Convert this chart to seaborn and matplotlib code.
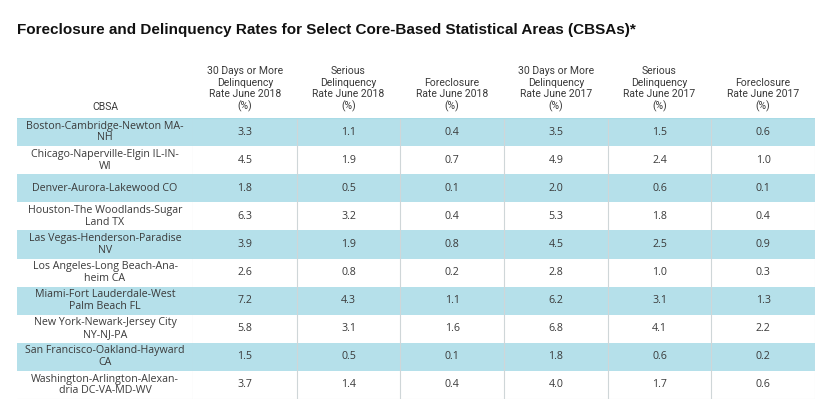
import numpy as np
import pandas as pd
import seaborn as sns
import matplotlib
matplotlib.use("Agg")
import matplotlib.pyplot as plt
from matplotlib.colors import ListedColormap

# ---- data ----
cbsa = [
    "Boston-Cambridge-Newton MA-\nNH",
    "Chicago-Naperville-Elgin IL-IN-\nWI",
    "Denver-Aurora-Lakewood CO",
    "Houston-The Woodlands-Sugar\nLand TX",
    "Las Vegas-Henderson-Paradise\nNV",
    "Los Angeles-Long Beach-Ana-\nheim CA",
    "Miami-Fort Lauderdale-West\nPalm Beach FL",
    "New York-Newark-Jersey City\nNY-NJ-PA",
    "San Francisco-Oakland-Hayward\nCA",
    "Washington-Arlington-Alexan-\ndria DC-VA-MD-WV",
]
delinq30_2018 = [3.3, 4.5, 1.8, 6.3, 3.9, 2.6, 7.2, 5.8, 1.5, 3.7]
serious_2018 = [1.1, 1.9, 0.5, 3.2, 1.9, 0.8, 4.3, 3.1, 0.5, 1.4]
foreclosure_2018 = [0.4, 0.7, 0.1, 0.4, 0.8, 0.2, 1.1, 1.6, 0.1, 0.4]
delinq30_2017 = [3.5, 4.9, 2.0, 5.3, 4.5, 2.8, 6.2, 6.8, 1.8, 4.0]
serious_2017 = [1.5, 2.4, 0.6, 1.8, 2.5, 1.0, 3.1, 4.1, 0.6, 1.7]
foreclosure_2017 = [0.6, 1.0, 0.1, 0.4, 0.9, 0.3, 1.3, 2.2, 0.2, 0.6]
headers = [
    "30 Days or More\nDelinquency\nRate June 2018\n(%)",
    "Serious\nDelinquency\nRate June 2018\n(%)",
    "Foreclosure\nRate June 2018\n(%)",
    "30 Days or More\nDelinquency\nRate June 2017\n(%)",
    "Serious\nDelinquency\nRate June 2017\n(%)",
    "Foreclosure\nRate June 2017\n(%)",
]
title = "Foreclosure and Delinquency Rates for Select Core-Based Statistical Areas (CBSAs)*"

values = pd.DataFrame({
    headers[0]: delinq30_2018,
    headers[1]: serious_2018,
    headers[2]: foreclosure_2018,
    headers[3]: delinq30_2017,
    headers[4]: serious_2017,
    headers[5]: foreclosure_2017,
})
n = len(cbsa)
stripe = np.array([[1 - (i % 2)] for i in range(n)])
stripe_full = np.repeat(stripe, values.shape[1], axis=1)

sns.set_theme(style="white")
plt.rcParams['font.family'] = ['DejaVu Sans']

W, H = 830, 408
fig = plt.figure(figsize=(W / 100, H / 100), dpi=100)
fig.patch.set_facecolor("white")

blue = "#b5e0ea"
cmap = ListedColormap(["#ffffff", blue])
txt_color = "#3a3a3a"
body_font = ['Open Sans', 'DejaVu Sans']
head_font = ['Roboto', 'DejaVu Sans']

top_px, bot_px = 118, 399
x0, x1, x2 = 17, 193, 815
ax1 = fig.add_axes([x0 / W, 1 - bot_px / H, (x1 - x0) / W, (bot_px - top_px) / H])
ax2 = fig.add_axes([x1 / W, 1 - bot_px / H, (x2 - x1) / W, (bot_px - top_px) / H])

sns.heatmap(stripe, ax=ax1, cmap=cmap, vmin=0, vmax=1, cbar=False,
            annot=np.array(cbsa).reshape(-1, 1), fmt="",
            annot_kws=dict(fontsize=7.7, color=txt_color, family=body_font,
                           linespacing=1.1))
annot_vals = values.map(lambda v: f"{v:.1f}").values
sns.heatmap(stripe_full, ax=ax2, cmap=cmap, vmin=0, vmax=1, cbar=False,
            annot=annot_vals, fmt="",
            annot_kws=dict(fontsize=7.7, color=txt_color, family=body_font))

for ax, labels in ((ax1, ["CBSA"]), (ax2, headers)):
    ax.xaxis.tick_top()
    ax.set_xticks(np.arange(len(labels)) + 0.5)
    ax.set_xticklabels(labels, rotation=0, fontsize=7.5, color=txt_color,
                       family=head_font, linespacing=1.2, ha="center",
                       multialignment="center")
    ax.tick_params(axis="x", length=0, pad=4)
    ax.set_yticks([])
    ax.set_xlabel("")
    ax.set_ylabel("")
    for s in ax.spines.values():
        s.set_visible(False)

# column separators
ax1.axvline(1, color="#cfd6d8", lw=0.8)
for c in range(1, values.shape[1]):
    ax2.axvline(c, color="#cfd6d8", lw=0.8)
ax2.axvline(values.shape[1], color="#dcdcdc", lw=0.8)
ax1.axhline(n, color="#e0e0e0", lw=0.8)
ax2.axhline(n, color="#e0e0e0", lw=0.8)
ax1.axhline(0, color="#a9dbe6", lw=1.0)
ax2.axhline(0, color="#a9dbe6", lw=1.0)

fig.text(17 / W, 1 - 30 / H, title, fontsize=11, fontweight="bold",
         family=['Liberation Sans', 'DejaVu Sans'],
         color="#111111", va="center", ha="left")

fig.savefig("out.png", dpi=100, facecolor="white")
